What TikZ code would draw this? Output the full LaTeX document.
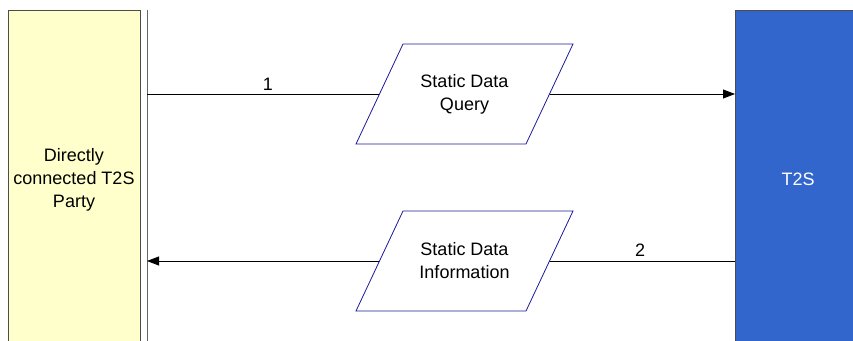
\documentclass[tikz,border=0pt]{standalone}
\usepackage{fontspec}
\setmainfont{Liberation Sans}
\usetikzlibrary{arrows.meta}
\definecolor{partyyellow}{HTML}{FFFFCC}
\definecolor{tsblue}{HTML}{3366CC}
\definecolor{parblue}{HTML}{1A1A99}
\begin{document}
\begin{tikzpicture}[x=1pt,y=1pt,
  every node/.style={font=\fontsize{18}{23}\selectfont},
  msgshape/.style={draw=parblue, line width=0.8pt, fill=white},
  conn/.style={line width=0.8pt, black},
  arr/.style={conn, -{Triangle[length=12pt,width=9pt]}},
  lbl/.style={inner sep=1pt}]
\useasboundingbox (0,0) rectangle (853,340);
% left party box
\path[fill=partyyellow, draw=black!70, line width=0.8pt] (8,330) rectangle (140,-5);
\node[align=center] (party) at (74,160) {Directly\\connected T2S\\Party};
% vertical line
\coordinate (vtop) at (147,330);
\coordinate (vbot) at (147,-5);
\draw[line width=0.8pt, black!60] (vtop) -- (vbot);
% T2S box
\path[fill=tsblue, draw=black!70, line width=0.8pt] (735,330) rectangle (860,-5);
\node[text=white] (t2s) at (798,161) {T2S};
% connectors (behind the message shapes)
\coordinate (qin) at (147,246);
\coordinate (qout) at (735,246);
\coordinate (iin) at (735,79);
\coordinate (iout) at (147,79);
\draw[arr] (qin) -- (qout);
\draw[arr] (iin) -- (iout);
% messages
\path[msgshape] (403,296) -- (573,296) -- (526,196) -- (356,196) -- cycle;
\node[align=center] (q) at (464.5,246) {Static Data\\Query};
\path[msgshape] (403,129) -- (573,129) -- (526,29) -- (356,29) -- cycle;
\node[align=center] (info) at (464.5,79) {Static Data\\Information};
\node[lbl] (l1) at (268,256) {1};
\node[lbl] (l2) at (640,90) {2};
\end{tikzpicture}
\end{document}
